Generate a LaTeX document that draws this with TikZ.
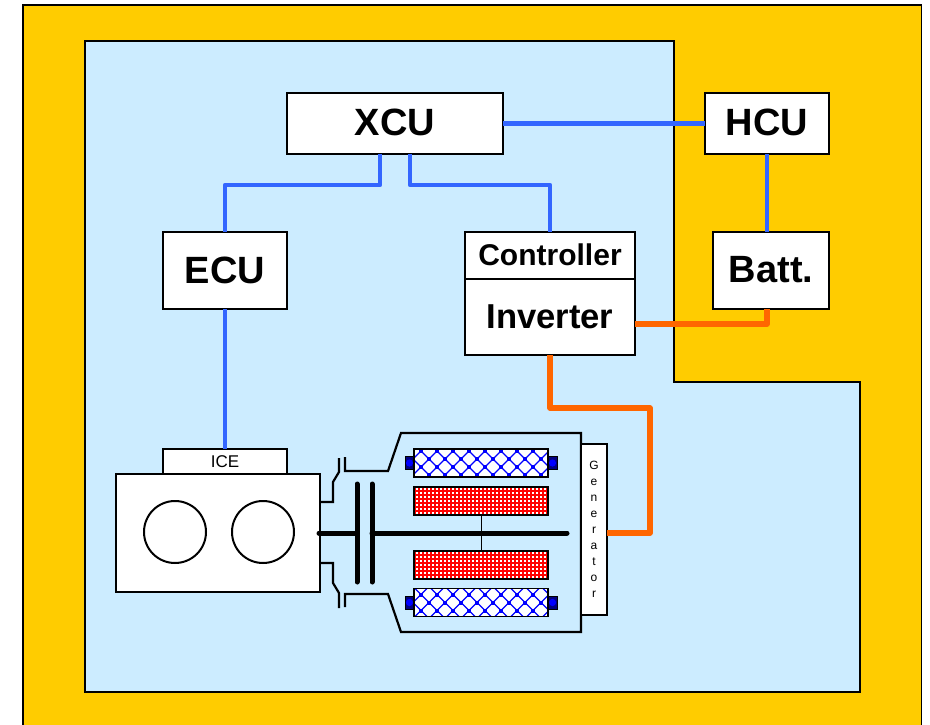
\documentclass[tikz,border=0pt]{standalone}
\usepackage{fontspec}
\setmainfont{Liberation Sans}
\usetikzlibrary{positioning, calc}
\definecolor{outerzone}{HTML}{FFCC00}
\definecolor{innerzone}{HTML}{CCECFF}
\definecolor{signalblue}{HTML}{3366FF}
\definecolor{poweroran}{HTML}{FF6600}
\definecolor{coilblue}{HTML}{0000FF}
\definecolor{pinnavy}{HTML}{000080}
\begin{document}
\begin{tikzpicture}[
    x=1pt, y=-1pt,
    unit/.style={rectangle, draw=black, fill=white, line width=1.2pt, inner sep=0pt, outer sep=0pt},
    bigunit/.style={unit, font=\bfseries\fontsize{38}{40}\selectfont},
    signal/.style={draw=signalblue, line width=4.4pt, line join=round},
    power/.style={draw=poweroran, line width=5.5pt, line join=round},
    mech/.style={draw=black, line width=2.2pt},
    thick shaft/.style={draw=black, line width=5pt, line cap=round},
    cylinder/.style={circle, draw=black, fill=white, line width=2pt, minimum size=62pt, inner sep=0pt},
    stator/.style={rectangle, draw=black, fill=white, line width=1.2pt, minimum width=134pt, minimum height=28pt, inner sep=0pt, outer sep=0pt,
        path picture={
            \foreach \k in {-4,...,12} {
                \draw[coilblue, line width=1.2pt] ($(path picture bounding box.north west)+(\k*16+7,#1)$) ++(-40,-40) -- ++(80,80);
                \draw[coilblue, line width=1.2pt] ($(path picture bounding box.north west)+(\k*16+7,#1)$) ++(40,-40) -- ++(-80,80);
            }
            \foreach \k in {-1,...,8} {
                \foreach \m in {-1,0,1} {
                    \fill[coilblue] ($(path picture bounding box.north west)+(\k*16+5,\m*16+#1-2)$) rectangle ++(4,4);
                    \fill[coilblue] ($(path picture bounding box.north west)+(\k*16+13,\m*16+#1+6)$) rectangle ++(4,4);
                }
            }
        }},
    rotor/.style={rectangle, draw=black, fill=red, line width=1.2pt, minimum width=134pt, minimum height=28pt, inner sep=0pt, outer sep=0pt,
        path picture={
            \foreach \i in {0,...,32} {
                \foreach \j in {0,...,6} {
                    \fill[white] ($(path picture bounding box.north west)+(\i*4+2,\j*4+1)$) rectangle ++(2.2,2.2);
                }
            }
        }},
    pin/.style={rectangle, draw=black, fill=pinnavy, line width=0.8pt, minimum width=9pt, minimum height=13pt, inner sep=0pt, outer sep=0pt},
]
    \useasboundingbox (0,0) rectangle (930,724);
    % Zones
    \draw[fill=outerzone, line width=1.5pt] (23,5) rectangle (921.5,740);
    \draw[fill=innerzone, line width=1.5pt] (85,41) -- (674,41) -- (674,382) -- (860,382) -- (860,692) -- (85,692) -- cycle;
    % Control units
    \node[bigunit, minimum width=216pt, minimum height=61pt] (xcu) at (395,123.5) {\raisebox{2pt}{XCU}};
    \node[bigunit, minimum width=124pt, minimum height=61pt] (hcu) at (767,123.5) {\raisebox{2pt}{HCU}};
    \node[bigunit, minimum width=124pt, minimum height=77pt] (ecu) at (225,270.5) {\raisebox{1pt}{ECU}};
    \node[bigunit, minimum width=116pt, minimum height=77pt] (batt) at (771,270.5) {\raisebox{3pt}{Batt.}};
    \node[unit, font=\bfseries\fontsize{30}{32}\selectfont, minimum width=170pt, minimum height=47pt] (controller) at (550,255.5) {\raisebox{2pt}{Controller}};
    \node[unit, font=\bfseries\fontsize{34.6}{36}\selectfont, minimum width=170pt, minimum height=76pt] (inverter) at (550,317) {Inverter};
    % Engine
    \node[unit, font=\fontsize{17}{19}\selectfont, line width=1.6pt, minimum width=124pt, minimum height=25pt] (ice) at (225,461.5) {ICE};
    \node[unit, line width=2pt, minimum width=204pt, minimum height=118pt] (engine) at (218,533) {};
    \node[cylinder] (cylA) at (175,532) {};
    \node[cylinder] (cylB) at (263,532) {};
    % Generator housing
    \draw[mech] (345,457) -- (345,471) -- (388,471) -- (401,433) -- (581,433) -- (581,632) -- (401,632) -- (388,594) -- (345,594) -- (345,607);
    \node[unit, line width=2pt, font=\fontsize{12}{16}\selectfont, align=center, minimum width=26pt, minimum height=171pt] (generator) at (594,529.5) {G\\e\\n\\e\\r\\a\\t\\o\\r};
    % Clutch
    \draw[mech] (engine.east |- 0,502) -- (333,502) -- (333,482) -- (339,472) -- (339,458);
    \draw[mech] (engine.east |- 0,563) -- (333,563) -- (333,583) -- (339,593) -- (339,608);
    \coordinate (plateA) at (357,533);
    \coordinate (plateB) at (372,533);
    \coordinate (shaftend) at (567,533);
    \draw[thick shaft] (319,533) -- (plateA);
    \draw[thick shaft] (plateB) -- (shaftend);
    \draw[thick shaft] (357,484) -- (357,582);
    \draw[thick shaft] (372,484) -- (372,582);
    % Windings
    \node[pin] (pinA) at (409.5,463) {};
    \node[pin] (pinB) at (552.5,463) {};
    \node[pin] (pinC) at (409.5,602.5) {};
    \node[pin] (pinD) at (552.5,602.5) {};
    \foreach \p in {pinA,pinB,pinC,pinD} { \fill[coilblue] (\p) circle (3.6pt); }
    \node[stator=2] (statorA) at (481,463) {};
    \node[stator=6] (statorB) at (481,602.5) {};
    \node[rotor] (rotorA) at (481,501) {};
    \node[rotor] (rotorB) at (481,565) {};
    \draw[line width=1pt] (rotorA) -- (rotorB);
    % Signal lines
    \draw[signal] (xcu) -- (hcu);
    \draw[signal] (hcu) -- (hcu |- batt.north);
    \draw[signal] ([xshift=-15pt]xcu.south) -- ++(0,31) -| (ecu.north);
    \draw[signal] ([xshift=15pt]xcu.south) -- ++(0,31) -| (controller.north);
    \draw[signal] (ecu) -- (ice);
    % Power lines
    \draw[power] ([yshift=-7pt]inverter.east) -| (hcu |- batt.south);
    \draw[power] (inverter.south) -- ++(0,53) -- ++(100,0) |- (generator.east |- plateA);
\end{tikzpicture}
\end{document}
